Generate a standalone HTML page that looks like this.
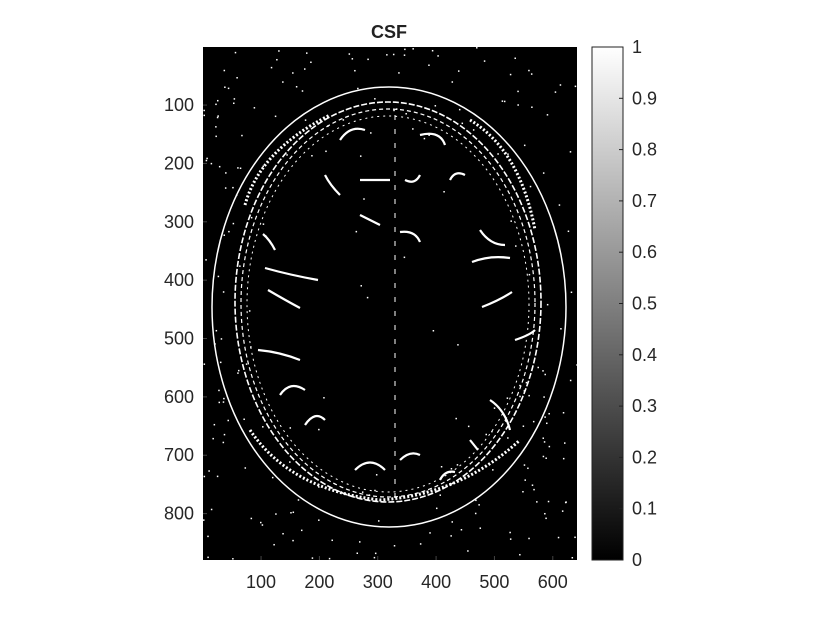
<!DOCTYPE html>
<html><head><meta charset="utf-8"><style>
body{margin:0;background:#fff;}
svg text{font-family:"Liberation Sans",Arial,sans-serif;}
</style></head><body>
<svg id="fig" width="840" height="630" viewBox="0 0 840 630" xmlns="http://www.w3.org/2000/svg">
<defs><linearGradient id="cbg" x1="0" y1="1" x2="0" y2="0"><stop offset="0" stop-color="#000"/><stop offset="1" stop-color="#fff"/></linearGradient>
<clipPath id="clipImg"><rect x="203" y="47" width="374" height="513"/></clipPath></defs>
<rect x="0" y="0" width="840" height="630" fill="#fff"/>
<text x="389" y="38" text-anchor="middle" font-size="18" font-weight="bold" fill="#222">CSF</text>
<g clip-path="url(#clipImg)">
<rect x="203" y="47" width="374" height="513" fill="#000"/>
<g fill="none" stroke="#fff">
<ellipse cx="389" cy="307" rx="177" ry="220" stroke-width="1.5"/>
<ellipse cx="388" cy="302" rx="153" ry="200" stroke-width="1.6" stroke-dasharray="6 2"/>
<ellipse cx="388" cy="303" rx="147" ry="194" stroke-width="1.2" stroke-dasharray="4 3"/>
<ellipse cx="388" cy="304" rx="141" ry="188" stroke-width="1" stroke-dasharray="2 4"/>
<path d="M395 115 L395 500" stroke-width="1" stroke-dasharray="5 9"/>
<g stroke-width="2.2">
<path d="M265 268 Q290 275 318 280"/><path d="M268 290 Q285 300 300 308"/>
<path d="M258 350 Q280 352 300 360"/><path d="M280 395 Q290 380 305 390"/>
<path d="M305 425 Q315 410 325 420"/><path d="M360 215 L380 225"/>
<path d="M400 232 Q415 230 420 242"/><path d="M472 262 Q490 255 510 258"/>
<path d="M482 307 Q500 300 512 292"/><path d="M515 340 Q530 335 535 330"/>
<path d="M490 400 Q505 410 510 430"/><path d="M470 440 L478 450"/>
<path d="M355 470 Q370 455 385 470"/><path d="M400 460 Q410 450 420 455"/>
<path d="M440 480 Q445 470 455 472"/><path d="M340 140 Q350 125 365 130"/>
<path d="M420 135 Q440 130 445 145"/><path d="M325 175 Q330 185 340 195"/>
<path d="M450 180 Q455 170 465 175"/>
<path d="M360 180 L390 180"/><path d="M405 180 Q415 185 420 175"/>
<path d="M263 234 Q270 240 275 250"/><path d="M480 230 Q490 245 505 245"/>
</g>
<path d="M245 205 Q260 150 330 115 M470 120 Q520 150 535 230 M250 430 Q290 490 380 500 Q460 495 520 440" stroke-width="3" stroke-dasharray="2 2"/>
</g>
<g id="noise" fill="#fff"></g>
</g>
<g id="axes"></g>
<rect x="592" y="47" width="31" height="513" fill="url(#cbg)" stroke="#222" stroke-width="1"/>
<g id="cbticks"></g>
</svg>
<script>
const xTicks=[100,200,300,400,500,600];
const yTicks=[100,200,300,400,500,600,700,800];
const cbTicks=[0,0.1,0.2,0.3,0.4,0.5,0.6,0.7,0.8,0.9,1];
const cbLabels=["0","0.1","0.2","0.3","0.4","0.5","0.6","0.7","0.8","0.9","1"];
const X0=203,X1=577,Y0=47,Y1=560;
const xMin=0.5,xMax=641.5,yMin=0.5,yMax=879.5;
function sx(v){return X0+(v-xMin)/(xMax-xMin)*(X1-X0);}
function sy(v){return Y0+(v-yMin)/(yMax-yMin)*(Y1-Y0);}
function cy(v){return Y1-v*(Y1-Y0);}
const NS='http://www.w3.org/2000/svg';
const ax=document.getElementById('axes');
xTicks.forEach(v=>{
 const t=document.createElementNS(NS,'text');
 
 
 t.setAttribute('x',sx(v));t.setAttribute('y',588);t.setAttribute('text-anchor','middle');
 t.setAttribute('font-size','18');t.setAttribute('fill','#262626');t.textContent=v;ax.appendChild(t);
 const l=document.createElementNS(NS,'line');
 
 
 l.setAttribute('x1',sx(v));l.setAttribute('x2',sx(v));l.setAttribute('y1',Y1);l.setAttribute('y2',Y1-4);l.setAttribute('stroke','#444');ax.appendChild(l);
});
yTicks.forEach(v=>{
 const t=document.createElementNS(NS,'text');
 
 
 t.setAttribute('x',194);t.setAttribute('y',sy(v)+6);t.setAttribute('text-anchor','end');
 t.setAttribute('font-size','18');t.setAttribute('fill','#262626');t.textContent=v;ax.appendChild(t);
 const l=document.createElementNS(NS,'line');
 
 
 l.setAttribute('x1',X0);l.setAttribute('x2',X0+4);l.setAttribute('y1',sy(v));l.setAttribute('y2',sy(v));l.setAttribute('stroke','#444');ax.appendChild(l);
});
const cb=document.getElementById('cbticks');
cbTicks.forEach((v,i)=>{
 const t=document.createElementNS(NS,'text');
 
 
 t.setAttribute('x',632);t.setAttribute('y',cy(v)+6);t.setAttribute('font-size','18');t.setAttribute('fill','#262626');t.textContent=cbLabels[i];cb.appendChild(t);
 const l=document.createElementNS(NS,'line');
 
 
 l.setAttribute('x1',619);l.setAttribute('x2',623);l.setAttribute('y1',cy(v));l.setAttribute('y2',cy(v));l.setAttribute('stroke','#222');cb.appendChild(l);
});
// decorative noise speckles (texture, not data)
let seed=7;function rnd(){seed=(seed*16807)%2147483647;return seed/2147483647;}
const ng=document.getElementById('noise');
for(let i=0;i<420;i++){
 const x=X0+rnd()*(X1-X0),y=Y0+rnd()*(Y1-Y0);
 const dx=(x-389)/177,dy=(y-307)/220;const r=dx*dx+dy*dy;
 const inner=((x-388)/150)**2+((y-302)/197)**2;
 if(r<1.02&&inner>0.8&&rnd()<0.2)continue;
 if(inner<0.75&&rnd()<0.92)continue;
 const c=document.createElementNS(NS,'rect');
 
 
 c.setAttribute('x',x);c.setAttribute('y',y);c.setAttribute('width',1.5);c.setAttribute('height',1.5);ng.appendChild(c);
}
</script>
</body></html>
